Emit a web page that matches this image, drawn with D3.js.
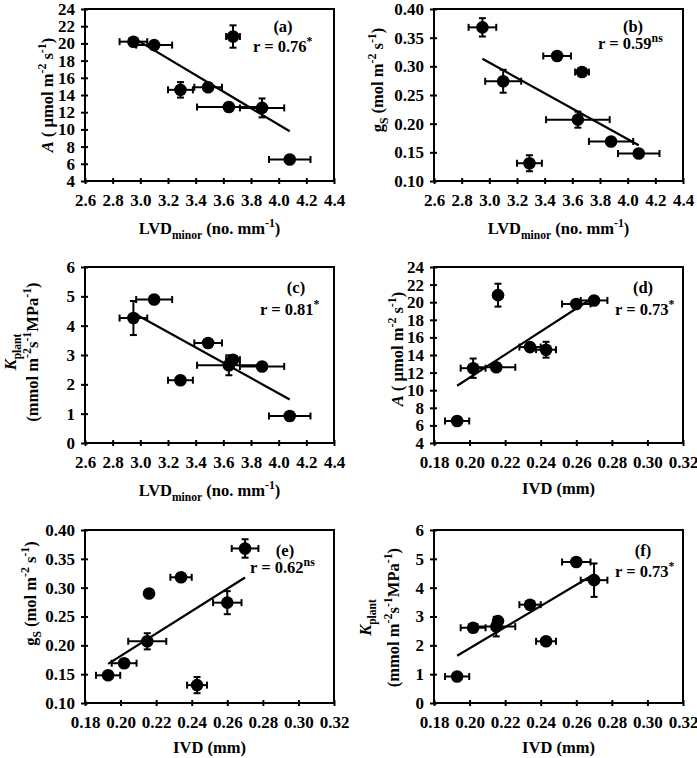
<!DOCTYPE html>
<html><head><meta charset="utf-8">
<script src="https://cdn.jsdelivr.net/npm/d3@7"></script>
<style>
html,body{margin:0;padding:0;background:#fff;}
svg text{font-family:"Liberation Serif","Times New Roman",serif;font-weight:bold;fill:#000;}
</style></head>
<body><svg id="chart" width="697" height="758"></svg>
<script>
// ---- data (8 genotypes, same order in every array) ----
const lvd      = [2.95, 3.10, 3.29, 3.49, 3.64, 3.88, 3.67, 4.08];
const lvdErr   = [0.10, 0.13, 0.09, 0.10, 0.23, 0.16, 0.05, 0.15];
const ivd      = [0.270, 0.260, 0.243, 0.234, 0.215, 0.202, 0.216, 0.193];
const ivdErr   = [0.0075, 0.008, 0.0056, 0.006, 0.0107, 0.007, 0.002, 0.0068];
const photo    = [20.2, 19.8, 14.6, 14.9, 12.6, 12.5, 20.8, 6.5];
const photoErr = [0.3, 0.4, 0.9, 0.4, 0.3, 1.1, 1.3, 0.3];
const gs       = [0.368, 0.274, 0.131, 0.318, 0.207, 0.169, 0.290, 0.148];
const gsErr    = [0.016, 0.020, 0.014, 0.005, 0.014, 0.005, 0.006, 0.004];
const kplant   = [4.26, 4.89, 2.14, 3.41, 2.65, 2.61, 2.84, 0.92];
const kErr     = [0.58, 0.12, 0.05, 0.10, 0.34, 0.05, 0.10, 0.05];

const lvdTicks = [2.6, 2.8, 3.0, 3.2, 3.4, 3.6, 3.8, 4.0, 4.2, 4.4];
const ivdTicks = [0.18, 0.20, 0.22, 0.24, 0.26, 0.28, 0.30, 0.32];
const aTicks   = [4, 6, 8, 10, 12, 14, 16, 18, 20, 22, 24];
const gsTicks  = [0.10, 0.15, 0.20, 0.25, 0.30, 0.35, 0.40];
const kTicks   = [0, 1, 2, 3, 4, 5, 6];

const panelLabels = ["(a)", "(b)", "(c)", "(d)", "(e)", "(f)"];
const rValues     = ["0.76", "0.59", "0.81", "0.73", "0.62", "0.73"];
const rSig        = ["*", "ns", "*", "*", "ns", "*"];

// ---- text helpers ----
const P = s => ({t: s});
const I = s => ({t: s, i: true});
const SUP = s => ({t: s, sup: true});
const SUB = s => ({t: s, sub: true});

const titleA  = [[I("A"), P(" ( \u00b5mol m"), SUP("-2"), P(" s"), SUP("-1"), P(")")]];
const titleGs = [[P("g"), SUB("S"), P(" (mol m"), SUP("-2"), P(" s"), SUP("-1"), P(")")]];
const titleK  = [[I("K"), SUB("plant")], [P("(mmol m"), SUP("-2"), P("s"), SUP("-1"), P("MPa"), SUP("-1"), P(")")]];
const titleLvd = [P("LVD"), SUB("minor"), P(" (no. mm"), SUP("-1"), P(")")];
const titleIvd = [P("IVD (mm)")];

function rich(sel, parts, size) {
  let shift = 0;
  parts.forEach(p => {
    const ts = sel.append("tspan").text(p.t);
    let target = 0, fs = size;
    if (p.sup) { target = -size * 0.42; fs = size * 0.72; }
    if (p.sub) { target = size * 0.28; fs = size * 0.7; }
    ts.attr("font-size", fs);
    if (p.i) ts.attr("font-style", "italic");
    if (target !== shift) { ts.attr("dy", target - shift); shift = target; }
  });
}

const svg = d3.select("#chart");
const FS = 16.5, TFS = 17;

const cols = [85, 434];
const panels = [
  {x: lvd, xe: lvdErr, y: photo, ye: photoErr, col: 0, top: 9,   h: 172, xd: [2.6, 4.4], xt: lvdTicks, xf: d3.format(".1f"), yd: [4, 24], yt: aTicks, yf: d3.format("d"), yTitle: titleA,  yTitleX: [-38], yTitleDy: 0,   xTitle: titleLvd, xTitleY: 53, lab: [198, 17], rPos: [168, 43]},
  {x: lvd, xe: lvdErr, y: gs,    ye: gsErr,    col: 1, top: 9,   h: 172, xd: [2.6, 4.4], xt: lvdTicks, xf: d3.format(".1f"), yd: [0.10, 0.40], yt: gsTicks, yf: d3.format(".2f"), yTitle: titleGs, yTitleX: [-57], yTitleDy: -15, xTitle: titleLvd, xTitleY: 53, lab: [199, 17], rPos: [164, 40]},
  {x: lvd, xe: lvdErr, y: kplant, ye: kErr,    col: 0, top: 267, h: 176, xd: [2.6, 4.4], xt: lvdTicks, xf: d3.format(".1f"), yd: [0, 6], yt: kTicks, yf: d3.format("d"), yTitle: titleK, yTitleX: [-75, -53], yTitleDy: -3, xTitle: titleLvd, xTitleY: 53, lab: [211, 20], rPos: [175, 48]},
  {x: ivd, xe: ivdErr, y: photo, ye: photoErr, col: 1, top: 267, h: 176, xd: [0.18, 0.32], xt: ivdTicks, xf: d3.format(".2f"), yd: [4, 24], yt: aTicks, yf: d3.format("d"), yTitle: titleA, yTitleX: [-37], yTitleDy: -6, xTitle: titleIvd, xTitleY: 51, lab: [209, 20], rPos: [181, 48]},
  {x: ivd, xe: ivdErr, y: gs,    ye: gsErr,    col: 0, top: 530, h: 173, xd: [0.18, 0.32], xt: ivdTicks, xf: d3.format(".2f"), yd: [0.10, 0.40], yt: gsTicks, yf: d3.format(".2f"), yTitle: titleGs, yTitleX: [-55], yTitleDy: -23, xTitle: titleIvd, xTitleY: 50, lab: [200, 20], rPos: [165, 43]},
  {x: ivd, xe: ivdErr, y: kplant, ye: kErr,    col: 1, top: 530, h: 173, xd: [0.18, 0.32], xt: ivdTicks, xf: d3.format(".2f"), yd: [0, 6], yt: kTicks, yf: d3.format("d"), yTitle: titleK, yTitleX: [-69, -41], yTitleDy: 1, xTitle: titleIvd, xTitleY: 50, lab: [209, 20], rPos: [181, 47]}
];

panels.forEach((p, pi) => {
  const left = cols[p.col], W = 249;
  const g = svg.append("g").attr("transform", `translate(${left},${p.top})`);
  const x = d3.scaleLinear().domain(p.xd).range([0, W]);
  const y = d3.scaleLinear().domain(p.yd).range([p.h, 0]);

  // frame
  g.append("rect").attr("x", 0).attr("y", 0).attr("width", W).attr("height", p.h)
    .attr("fill", "none").attr("stroke", "#000").attr("stroke-width", 2);

  // axes
  const xa = g.append("g").attr("transform", `translate(0,${p.h})`)
    .call(d3.axisBottom(x).tickValues(p.xt).tickFormat(p.xf).tickSizeInner(3).tickSizeOuter(0).tickPadding(9));
  const ya = g.append("g")
    .call(d3.axisLeft(y).tickValues(p.yt).tickFormat(p.yf).tickSizeInner(4).tickSizeOuter(0).tickPadding(6));
  [xa, ya].forEach(a => {
    a.select(".domain").remove();
    a.attr("font-size", TFS).attr("font-family", null);
    a.selectAll(".tick line").attr("stroke", "#000").attr("stroke-width", 2);
    a.selectAll(".tick text").attr("font-size", TFS).attr("fill", "#000")
      .style("font-family", "'Liberation Serif', serif").style("font-weight", "bold");
  });
  xa.selectAll(".tick line").attr("y1", -3);
  ya.selectAll(".tick line").attr("x1", 3);
  xa.selectAll(".tick text").attr("dy", "0.71em").attr("y", 13);

  // x title
  const xt = g.append("text").attr("x", W / 2).attr("y", p.h + p.xTitleY).attr("text-anchor", "middle").attr("font-size", FS);
  rich(xt, p.xTitle, FS);

  // y title (rotated)
  p.yTitle.forEach((line, li) => {
    const t = g.append("text")
      .attr("transform", `translate(${p.yTitleX[li] + 6},${p.h / 2 + p.yTitleDy}) rotate(-90)`)
      .attr("text-anchor", "middle").attr("font-size", FS);
    rich(t, line, FS);
  });

  // regression line (least squares through the data)
  const mx = d3.mean(p.x), my = d3.mean(p.y);
  const sxy = d3.sum(p.x, (v, i) => (v - mx) * (p.y[i] - my));
  const sxx = d3.sum(p.x, v => (v - mx) * (v - mx));
  const b = sxy / sxx, a0 = my - b * mx;
  const [x0, x1] = d3.extent(p.x);
  g.append("line").attr("x1", x(x0)).attr("y1", y(a0 + b * x0)).attr("x2", x(x1)).attr("y2", y(a0 + b * x1))
    .attr("stroke", "#000").attr("stroke-width", 2.2);

  // error bars + points
  const idx = d3.range(p.x.length);
  const cap = 3.5;
  const eb = g.append("g").attr("stroke", "#000").attr("stroke-width", 2);
  idx.forEach(i => {
    const cx = x(p.x[i]), cy = y(p.y[i]);
    const xl = x(p.x[i] - p.xe[i]), xr = x(p.x[i] + p.xe[i]);
    const yt = y(p.y[i] + p.ye[i]), yb = y(p.y[i] - p.ye[i]);
    eb.append("line").attr("x1", xl).attr("x2", xr).attr("y1", cy).attr("y2", cy);
    eb.append("line").attr("x1", xl).attr("x2", xl).attr("y1", cy - cap).attr("y2", cy + cap);
    eb.append("line").attr("x1", xr).attr("x2", xr).attr("y1", cy - cap).attr("y2", cy + cap);
    eb.append("line").attr("x1", cx).attr("x2", cx).attr("y1", yt).attr("y2", yb);
    eb.append("line").attr("x1", cx - cap).attr("x2", cx + cap).attr("y1", yt).attr("y2", yt);
    eb.append("line").attr("x1", cx - cap).attr("x2", cx + cap).attr("y1", yb).attr("y2", yb);
  });
  g.selectAll("circle.pt").data(idx).join("circle").attr("class", "pt")
    .attr("cx", i => x(p.x[i])).attr("cy", i => y(p.y[i])).attr("r", 6.3).attr("fill", "#000");

  // panel label and r
  g.append("text").attr("x", p.lab[0]).attr("y", p.lab[1]).attr("text-anchor", "middle")
    .attr("font-size", FS).attr("dy", "0.35em").text(panelLabels[pi]);
  const rt = g.append("text").attr("x", p.rPos[0]).attr("y", p.rPos[1]).attr("font-size", FS);
  rich(rt, [P("r = " + rValues[pi]), SUP(rSig[pi])], FS);
});
</script></body></html>
